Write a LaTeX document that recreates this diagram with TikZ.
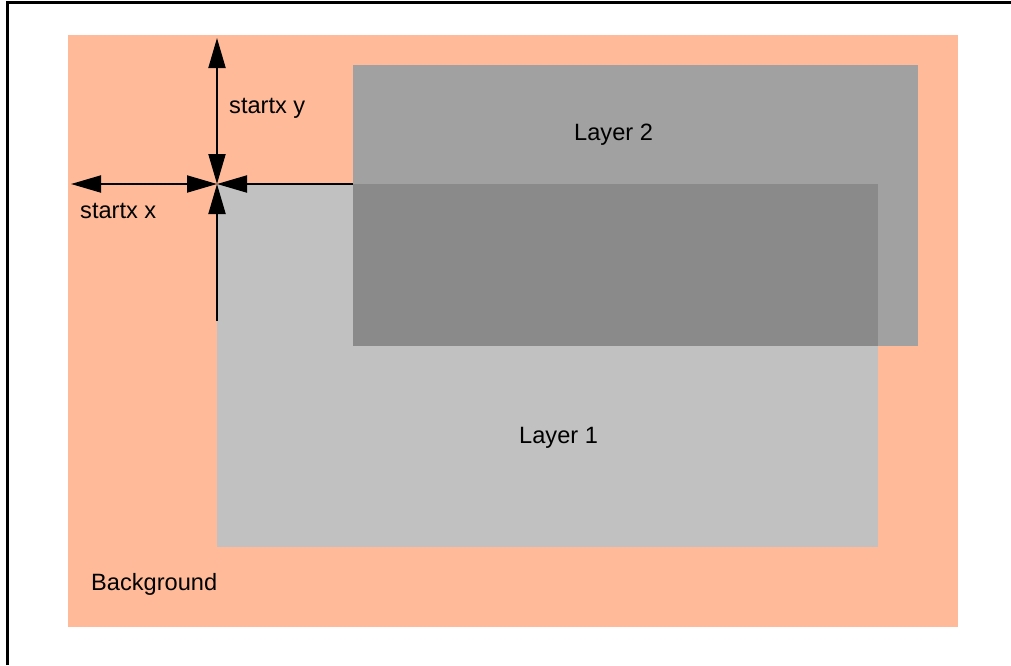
\documentclass[tikz,border=0pt]{standalone}
\usepackage{fontspec}
\setmainfont{Liberation Sans}
\usetikzlibrary{arrows.meta}
\definecolor{bgpeach}{RGB}{255,187,153}
\definecolor{layertwo}{RGB}{161,161,161}
\definecolor{layerone}{RGB}{193,193,193}
\definecolor{overlap}{RGB}{138,138,138}
\tikzset{
  lbl/.style={inner sep=0pt, anchor=base west, font=\fontsize{23.6}{28}\selectfont},
  dim/.style={line width=2pt, black},
  dimboth/.style={dim, {Triangle[length=30pt, width=17pt]}-{Triangle[length=30pt, width=17pt]}},
  dimend/.style={dim, -{Triangle[length=30pt, width=17pt]}},
}
\begin{document}
\begin{tikzpicture}[x=1pt, y=-1pt]
  \useasboundingbox (0,0) rectangle (1011,665);
  % outer frame, top and left edges
  \draw[line width=3pt] (7.5,665) -- (7.5,2.5) -- (1011,2.5);

  % background area and the two layers
  \fill[bgpeach] (68,35) rectangle (958,627);
  \fill[layertwo] (353,65) rectangle (918,346);
  \fill[layerone] (217,184) rectangle (878,547);
  \fill[overlap] (353,184) rectangle (878,346);

  % reference points for the dimension lines
  \coordinate (O) at (217,184);
  \coordinate (ytop) at (217,38);
  \coordinate (xleft) at (71,184);
  \coordinate (ext1) at (353,184);
  \coordinate (ext2) at (217,321);

  \draw[dimboth] (ytop) -- (O);
  \draw[dimboth] (xleft) -- (O);
  \draw[dimend] (ext1) -- (O);
  \draw[dimend] (ext2) -- (O);

  % labels
  \node[lbl] (ly) at (229,113) {startx y};
  \node[lbl] (lx) at (80,218) {startx x};
  \node[lbl] (l2) at (574,140) {Layer 2};
  \node[lbl] (l1) at (519,443) {Layer 1};
  \node[lbl] (bg) at (91,590) {Background};
\end{tikzpicture}
\end{document}
